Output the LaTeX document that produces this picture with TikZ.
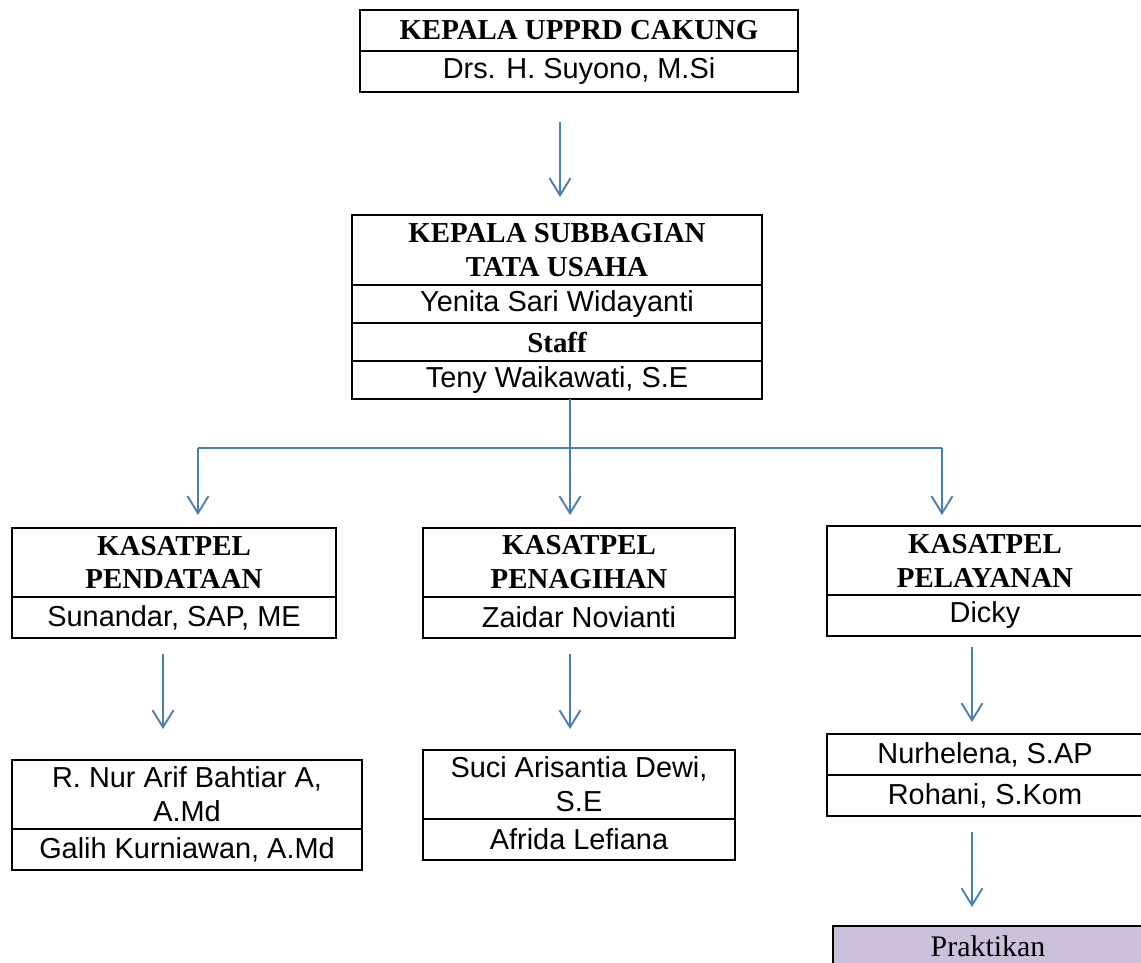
\documentclass[tikz,border=0pt]{standalone}
\usepackage{fontspec}
\setmainfont{Liberation Serif}
\newfontfamily\arialf{Liberation Sans}
\usetikzlibrary{arrows.meta}
\definecolor{arrowblue}{RGB}{74,126,187}
\definecolor{lavender}{RGB}{204,192,218}
\tikzset{
  cell/.style={draw, line width=1.5bp, inner sep=0pt, align=center, anchor=center},
  hd/.style={cell, font=\fontsize{29}{34}\selectfont\bfseries},
  nm/.style={cell, font=\fontsize{29}{34}\selectfont\arialf},
  arr/.style={draw=arrowblue, line width=1.9bp, -{Straight Barb[length=17bp,width=21bp,line width=1.9bp]}},
  ln/.style={draw=arrowblue, line width=1.9bp}
}
\begin{document}
\begin{tikzpicture}[x=1bp,y=-1bp]
\useasboundingbox (0,0) rectangle (1141,963);
\clip (0,0) rectangle (1141,963);
% top
\node[hd, minimum width=438bp, minimum height=41bp] (t1) at (579,30.5) {KEPALA UPPRD CAKUNG};
\node[nm, minimum width=438bp, minimum height=41bp] (t2) at (579,71.5) {Drs. H. Suyono, M.Si};
% second
\node[hd, minimum width=410bp, minimum height=70bp] (s1) at (557,250) {KEPALA SUBBAGIAN\\TATA USAHA};
\node[nm, minimum width=410bp, minimum height=38bp] (s2) at (557,304) {Yenita Sari Widayanti};
\node[hd, minimum width=410bp, minimum height=38bp] (s3) at (557,342) {Staff};
\node[nm, minimum width=410bp, minimum height=38bp] (s4) at (557,380) {Teny Waikawati, S.E};
% third level
\node[hd, minimum width=324bp, minimum height=69bp] (l1) at (174,562.5) {KASATPEL\\PENDATAAN};
\node[nm, minimum width=324bp, minimum height=41bp] (l2) at (174,617.5) {Sunandar, SAP, ME};
\node[hd, minimum width=312bp, minimum height=69bp] (m1) at (579,562.5) {KASATPEL\\PENAGIHAN};
\node[nm, minimum width=312bp, minimum height=41bp] (m2) at (579,617.5) {Zaidar Novianti};
\node[hd, minimum width=316bp, minimum height=69bp] (r1) at (985,560.5) {KASATPEL\\PELAYANAN};
\node[nm, minimum width=316bp, minimum height=41bp] (r2) at (985,615.5) {Dicky};
% fourth level
\node[nm, minimum width=350bp, minimum height=69bp] (l3) at (187,794.5) {R. Nur Arif Bahtiar A,\\A.Md};
\node[nm, minimum width=350bp, minimum height=41bp] (l4) at (187,849.5) {Galih Kurniawan, A.Md};
\node[nm, minimum width=312bp, minimum height=69bp] (m3) at (579,784.5) {Suci Arisantia Dewi,\\S.E};
\node[nm, minimum width=312bp, minimum height=41bp] (m4) at (579,839.5) {Afrida Lefiana};
\node[nm, minimum width=316bp, minimum height=41bp] (r3) at (985,754.5) {Nurhelena, S.AP};
\node[nm, minimum width=316bp, minimum height=41bp] (r4) at (985,795.5) {Rohani, S.Kom};
\node[cell, fill=lavender, minimum width=310bp, minimum height=41bp, font=\fontsize{30}{34}\selectfont] (pk) at (988,946.5) {Praktikan};
% connector coordinates
\coordinate (a1s) at (560,122);
\coordinate (a1e) at (560,197);
\coordinate (bs) at (570,399);
\coordinate (bj) at (570,448);
\coordinate (bl) at (198,448);
\coordinate (br) at (942,448);
\coordinate (el) at (198,515);
\coordinate (em) at (570,515);
\coordinate (er) at (942,515);
\coordinate (a2s) at (163,654);
\coordinate (a2e) at (163,729);
\coordinate (a3s) at (570,654);
\coordinate (a3e) at (570,729);
\coordinate (a4s) at (972,647);
\coordinate (a4e) at (972,722);
\coordinate (a5s) at (972,832);
\coordinate (a5e) at (972,907);
\draw[arr] (a1s) -- (a1e);
\draw[ln] (bl) -- (br);
\draw[arr] (bs) -- (em);
\draw[arr] (bl) -- (el);
\draw[arr] (br) -- (er);
\draw[arr] (a2s) -- (a2e);
\draw[arr] (a3s) -- (a3e);
\draw[arr] (a4s) -- (a4e);
\draw[arr] (a5s) -- (a5e);
\end{tikzpicture}
\end{document}
